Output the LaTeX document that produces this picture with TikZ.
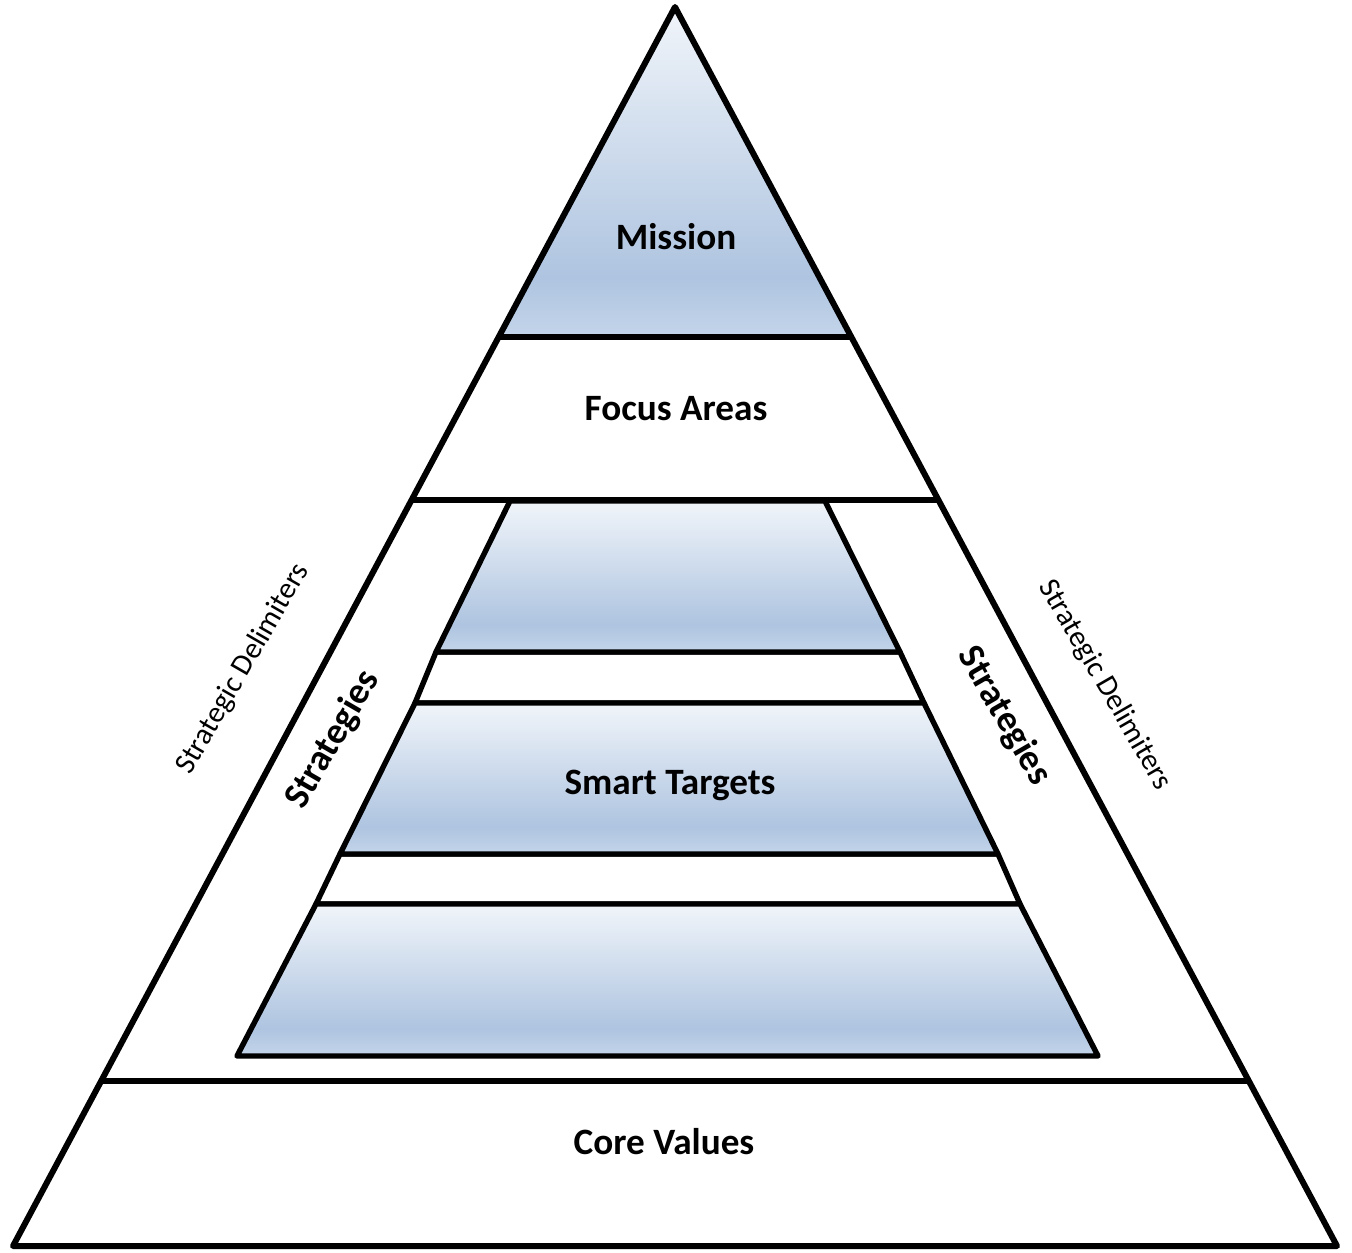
\documentclass[tikz,border=0pt]{standalone}
\usepackage{fontspec}
\setmainfont{Carlito}
\definecolor{stopc}{HTML}{F1F5FA}
\definecolor{smidc}{HTML}{AEC4E0}
\definecolor{sbotc}{HTML}{C4D5EA}
\pgfdeclareverticalshading{officeblue}{100bp}{color(0bp)=(sbotc); color(25bp)=(sbotc); color(34bp)=(smidc); color(75bp)=(stopc); color(100bp)=(stopc)}
\begin{document}
\begin{tikzpicture}[x=0.5pt,y=-0.5pt,
  outer/.style={draw=black,line width=3pt,line join=round},
  inner/.style={draw=black,line width=2.7pt,line join=round},
  tier/.style={inner,shading=officeblue},
  band/.style={inner,fill=white},
  lbl/.style={font=\bfseries\fontsize{18.6}{22}\selectfont,text=black},
  side/.style={font=\fontsize{15}{18}\selectfont,text=black}]
\useasboundingbox (0,0) rectangle (1352,1252);
% outer pyramid
\coordinate (apex) at (675,7);
\coordinate (bl) at (13,1246);
\coordinate (br) at (1337,1246);
% mission tip
\shade[shading=officeblue] (apex) -- (498,337) -- (852,337) -- cycle;
\draw[outer] (apex) -- (bl) -- (br) -- cycle;
\draw[inner] (498,337) -- (852,337);
\draw[inner] (412,500) -- (938,500);
\draw[inner] (99,1081) -- (1250,1081);
% inner tiers
\draw[band] (436,652) -- (900,652) -- (924,703) -- (415,703) -- cycle;
\draw[band] (340,854) -- (998,854) -- (1020,904) -- (316,904) -- cycle;
\draw[tier] (510,501) -- (825,501) -- (900,652) -- (436,652) -- cycle;
\draw[tier] (415,703) -- (924,703) -- (998,854) -- (340,854) -- cycle;
\draw[tier] (316,904) -- (1020,904) -- (1098,1056) -- (237,1056) -- cycle;
% labels
\node[lbl] (mission) at (676,237) {Mission};
\node[lbl] (focus) at (676,409) {Focus Areas};
\node[lbl] (smart) at (670,785) {Smart Targets};
\node[lbl] (core) at (664,1142) {Core Values};
\node[lbl,rotate=60] (stratL) at (333,740) {Strategies};
\node[lbl,rotate=-60] (stratR) at (1004,716) {Strategies};
\node[side,rotate=60] (delimL) at (243,669) {Strategic Delimiters};
\node[side,rotate=-60] (delimR) at (1105,685) {Strategic Delimiters};
\end{tikzpicture}
\end{document}
